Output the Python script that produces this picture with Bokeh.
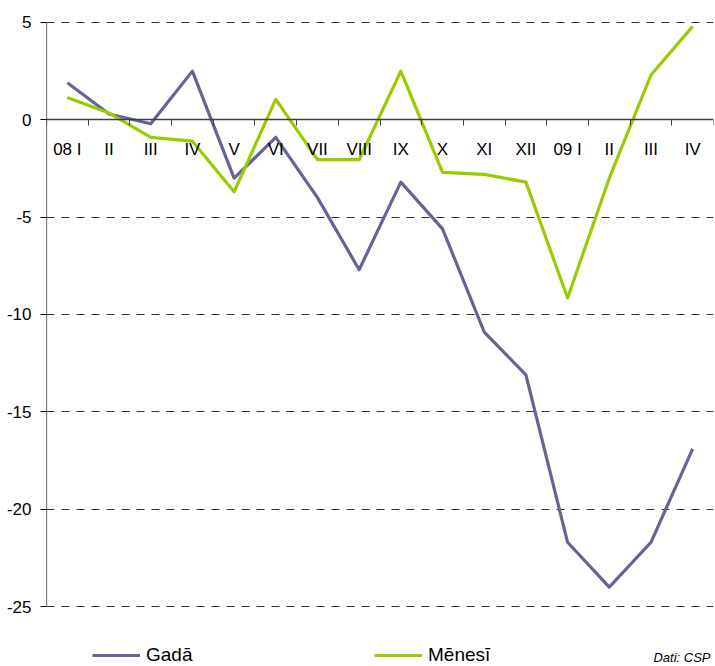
from bokeh.plotting import figure
from bokeh.models import (Range1d, FixedTicker, Legend, LegendItem, Label,
                          ColumnDataSource)
from bokeh.embed import file_html
from bokeh.resources import INLINE

labels = ["08 I", "II", "III", "IV", "V", "VI", "VII", "VIII", "IX", "X",
          "XI", "XII", "09 I", "II", "III", "IV"]
gada = [1.9, 0.3, -0.2, 2.5, -3.0, -0.9, -4.0, -7.7, -3.2, -5.6,
        -10.9, -13.1, -21.7, -24.0, -21.7, -16.9]
menesi = [1.15, 0.35, -0.9, -1.1, -3.7, 1.05, -2.05, -2.05, 2.5, -2.7,
          -2.8, -3.2, -9.15, -3.0, 2.3, 4.8]
y_ticks = [-25, -20, -15, -10, -5, 0, 5]

FONT = "Liberation Sans"
xs = list(range(1, len(labels) + 1))
x_start, x_end = 0.5, len(labels) + 0.5

p = figure(width=715, height=666, output_backend="svg", toolbar_location=None,
           x_range=Range1d(x_start, x_end), y_range=Range1d(-28.08, 5.1),
           min_border_left=46, min_border_right=2, min_border_top=20,
           min_border_bottom=0)
p.outline_line_color = None
p.background_fill_color = "white"
p.border_fill_color = "white"

src = ColumnDataSource(dict(x=xs, gada=gada, menesi=menesi))
r1 = p.line("x", "gada", source=src, line_color="#646499", line_width=3.2,
            line_join="round")
r2 = p.line("x", "menesi", source=src, line_color="#99cc00", line_width=3.2,
            line_join="round")

# grid
p.xgrid.visible = False
p.ygrid.ticker = FixedTicker(ticks=[t for t in y_ticks if t != 0])
p.ygrid.grid_line_color = "#333333"
p.ygrid.grid_line_dash = "8 7"
p.ygrid.grid_line_width = 1

# vertical axis line only between the outer ticks
p.segment(x0=[x_start], y0=[min(y_ticks)], x1=[x_start], y1=[max(y_ticks)],
          line_color="black", line_width=1.2)

# x axis at zero
xa = p.xaxis[0]
xa.fixed_location = 0
xa.ticker = FixedTicker(ticks=xs, minor_ticks=[x + 0.5 for x in range(0, len(labels) + 1)])
xa.major_label_overrides = {x: l for x, l in zip(xs, labels)}
xa.axis_line_color = "#404040"
xa.axis_line_width = 1.3
xa.major_tick_line_color = None
xa.major_tick_out = 0
xa.major_tick_in = 0
xa.minor_tick_line_color = "#404040"
xa.minor_tick_out = 6
xa.minor_tick_in = 0
xa.major_label_standoff = 14
xa.major_label_text_font = FONT
xa.major_label_text_font_size = "17px"
xa.major_label_text_color = "black"

ya = p.yaxis[0]
ya.ticker = FixedTicker(ticks=y_ticks)
ya.major_label_overrides = {t: str(t) for t in y_ticks}
ya.axis_line_color = None
ya.major_tick_line_color = "black"
ya.major_tick_out = 6
ya.major_tick_in = 0
ya.minor_tick_line_color = None
ya.major_label_standoff = 9
ya.major_label_text_font = FONT
ya.major_label_text_font_size = "17px"
ya.major_label_text_color = "black"

legend = Legend(items=[LegendItem(label="Gadā", renderers=[r1]),
                       LegendItem(label="Mēnesī", renderers=[r2])],
                orientation="horizontal", location=(46, 0),
                glyph_width=48, glyph_height=20, label_height=20,
                label_width=228, label_standoff=6, spacing=0, padding=0,
                margin=0, border_line_alpha=0, background_fill_alpha=0,
                label_text_font=FONT, label_text_font_size="19px",
                label_text_color="black")
p.add_layout(legend, "center")

p.add_layout(Label(x=15.06, y=-27.6, text="Dati: CSP", text_font=FONT,
                   text_font_size="13px", text_font_style="italic",
                   text_color="black", text_baseline="middle"))

open("out.html", "w").write(file_html(p, INLINE))
